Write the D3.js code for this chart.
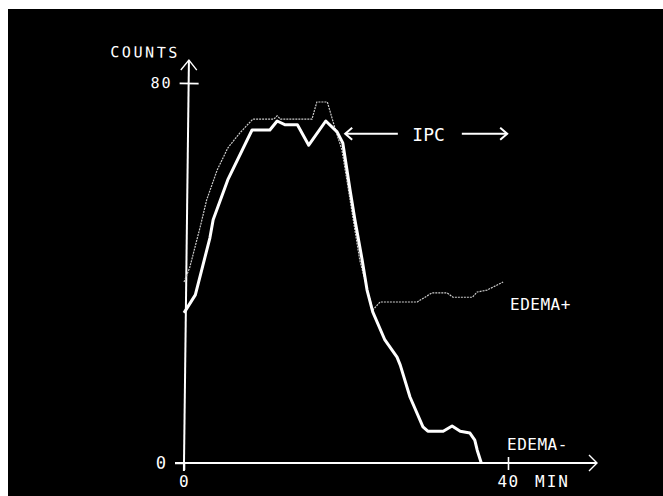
<!DOCTYPE html>
<html>
<head>
<meta charset="utf-8">
<script src="https://cdn.jsdelivr.net/npm/d3@7"></script>
<style>
  html, body { margin: 0; padding: 0; background: #fff; }
  text { font-family: "DejaVu Sans Mono", monospace; fill: #fff; }
</style>
</head>
<body>
<div id="chart"></div>
<script>
// minutes / counts
const edemaMinusT = [0, 1.4, 3.2, 3.6, 5.4, 8.4, 10.6, 11.5, 12.5, 14.0, 15.4, 17.5, 18.9, 19.6, 20.5, 21.1, 22.0, 22.6, 23.3, 24.8, 26.3, 26.7, 27.9, 29.5, 30.1, 32.0, 33.1, 34.1, 35.3, 35.9, 36.2, 36.7];
const edemaMinusC = [31.6, 35.4, 47.4, 51.2, 59.6, 70.1, 70.1, 72.0, 71.2, 71.2, 66.9, 72.0, 69.7, 67.4, 57.5, 51.2, 42.7, 36.4, 31.8, 25.9, 22.3, 20.6, 13.9, 7.6, 6.7, 6.7, 7.8, 6.7, 6.3, 4.8, 2.7, 0];

const edemaPlusT = [0, 0.7, 2.0, 2.8, 4.1, 5.4, 6.9, 8.5, 11.1, 11.5, 11.9, 15.8, 16.4, 17.7, 18.6, 19.5, 20.5, 21.7, 23.3, 24.2, 28.8, 30.6, 32.5, 33.2, 35.6, 36.2, 37.4, 39.4];
const edemaPlusC = [38.1, 41.1, 49.7, 55.4, 61.7, 66.3, 69.5, 72.4, 72.4, 73.1, 72.4, 72.4, 76.0, 76.0, 70.7, 65.9, 55.4, 42.7, 32.2, 33.9, 33.9, 35.8, 35.8, 34.9, 34.9, 36.0, 36.4, 38.1];

const yTicks = [0, 80];
const xTicks = [0, 40];

const W = 663, H = 496;

const svg = d3.select('#chart').append('svg').attr('width', W).attr('height', H);
svg.append('rect').attr('x', 8).attr('y', 9).attr('width', W - 8).attr('height', H - 9).attr('fill', '#000');

const x = d3.scaleLinear().domain([0, 40]).range([184, 508]);
const y = d3.scaleLinear().domain([0, 80]).range([463, 83]);

// y axis (slightly leaning, like the original screen)
const yAxisG = svg.append('g')
  .attr('transform', 'rotate(0.7,' + x(0) + ',' + y(0) + ') translate(' + x(0) + ',0)');
yAxisG.call(d3.axisLeft(y).tickValues(yTicks).tickSize(9).tickPadding(7));
yAxisG.select('.domain').remove();
yAxisG.selectAll('.tick line').attr('stroke', '#fff').attr('stroke-width', 1.6);
yAxisG.selectAll('.tick').filter(d => d === 80).select('line').attr('x2', -9).attr('x1', 10);
yAxisG.selectAll('.tick text').attr('font-size', 15).attr('letter-spacing', 2).attr('font-family', '"DejaVu Sans Mono", monospace').attr('fill', '#fff');
yAxisG.selectAll('.tick').filter(d => d === 0).select('text').attr('font-size', 17);
yAxisG.append('line').attr('x1', 0).attr('x2', 0).attr('y1', y(0) + 8).attr('y2', 60)
  .attr('stroke', '#fff').attr('stroke-width', 2);
yAxisG.append('path').attr('d', 'M-8,70 L0,60 L8,70')
  .attr('fill', 'none').attr('stroke', '#fff').attr('stroke-width', 1.4);
yAxisG.append('text').attr('x', -9).attr('y', 58).attr('text-anchor', 'end')
  .attr('font-size', 15).attr('letter-spacing', 2.6).text('COUNTS');

// x axis
const xAxisG = svg.append('g').attr('transform', 'translate(0,' + y(0) + ')');
xAxisG.call(d3.axisBottom(x).tickValues(xTicks).tickSize(7).tickPadding(6).tickFormat(d3.format('d')));
xAxisG.select('.domain').remove();
xAxisG.selectAll('.tick line').attr('stroke', '#fff').attr('stroke-width', 1.6);
xAxisG.selectAll('.tick').filter(d => d === 40).select('line').attr('y1', -6);
xAxisG.selectAll('.tick text').attr('font-size', 16).attr('letter-spacing', 1.5).attr('font-family', '"DejaVu Sans Mono", monospace').attr('fill', '#fff');
xAxisG.append('line').attr('x1', 175).attr('x2', 597).attr('y1', 0).attr('y2', 0)
  .attr('stroke', '#fff').attr('stroke-width', 2);
xAxisG.append('path').attr('d', 'M589,-8 L597,0 L589,8')
  .attr('fill', 'none').attr('stroke', '#fff').attr('stroke-width', 1.4);
xAxisG.append('text').attr('x', x(40) + 27).attr('y', 24).attr('text-anchor', 'start')
  .attr('font-size', 16).attr('letter-spacing', 2).text('MIN');

const line = d3.line().x(d => x(d[0])).y(d => y(d[1]));

const plus = edemaPlusT.map((t, i) => [t, edemaPlusC[i]]);
const minus = edemaMinusT.map((t, i) => [t, edemaMinusC[i]]);

svg.append('path').datum(plus).attr('d', line)
  .attr('fill', 'none').attr('stroke', '#ccc').attr('stroke-width', 1.2).attr('stroke-dasharray', '2,1');
svg.append('path').datum(minus).attr('d', line)
  .attr('fill', 'none').attr('stroke', '#fff').attr('stroke-width', 3).attr('stroke-linejoin', 'round');

// labels
svg.append('text').attr('x', 510).attr('y', 310).attr('font-size', 16).attr('letter-spacing', 0.5).text('EDEMA+');
svg.append('text').attr('x', 507).attr('y', 450).attr('font-size', 16).attr('letter-spacing', 0.5).text('EDEMA-');

// IPC annotation
const ipcY = y(69.3);
svg.append('text').attr('x', x(30.2)).attr('y', ipcY + 7).attr('text-anchor', 'middle').attr('font-size', 18).text('IPC');
svg.append('line').attr('x1', x(19.9)).attr('x2', x(26.4)).attr('y1', ipcY).attr('y2', ipcY).attr('stroke', '#fff').attr('stroke-width', 2);
svg.append('path').attr('d', 'M' + (x(19.9) + 7) + ',' + (ipcY - 6) + ' L' + x(19.9) + ',' + ipcY + ' L' + (x(19.9) + 7) + ',' + (ipcY + 6))
  .attr('fill', 'none').attr('stroke', '#fff').attr('stroke-width', 2);
svg.append('line').attr('x1', x(34.3)).attr('x2', x(39.9)).attr('y1', ipcY).attr('y2', ipcY).attr('stroke', '#fff').attr('stroke-width', 2);
svg.append('path').attr('d', 'M' + (x(39.9) - 7) + ',' + (ipcY - 6) + ' L' + x(39.9) + ',' + ipcY + ' L' + (x(39.9) - 7) + ',' + (ipcY + 6))
  .attr('fill', 'none').attr('stroke', '#fff').attr('stroke-width', 2);
</script>
</body>
</html>
